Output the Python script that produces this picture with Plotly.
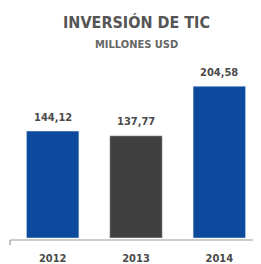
import plotly.graph_objects as go

years = ["2012", "2013", "2014"]
values = [144.12, 137.77, 204.58]
labels = ["144,12", "137,77", "204,58"]
colors = ["#0b4a9c", "#404040", "#0b4a9c"]

# page body has an 8px margin; size the figure so it fits the 261x264 window
OFF = 8
W, H = 261 - OFF, 264 - OFF
t, b, l, r = 0, 26, 3, 0
plot_h = H - t - b
FONT = "DejaVu Sans Condensed, Liberation Sans Narrow, sans-serif"

fig = go.Figure(go.Bar(
    x=years, y=values, marker_color=colors, width=0.63,
))
fig.update_xaxes(type="category")

for i, (yv, lab) in enumerate(zip(values, labels)):
    fig.add_annotation(x=i, y=yv, text="<b>" + lab + "</b>", showarrow=False, yshift=14,
                       yanchor="middle", font=dict(family=FONT, size=11, color="#4a4a4a"))

def py(pix):
    return (H - b - (pix - OFF)) / plot_h

fig.add_annotation(text="<b>INVERSIÓN DE TIC</b>", xref="paper", yref="paper", x=0.5, y=py(23),
                   yanchor="middle", showarrow=False, font=dict(family=FONT, size=16, color="#555555"))
fig.add_annotation(text="<b>MILLONES USD</b>", xref="paper", yref="paper", x=0.5, y=py(45),
                   yanchor="middle", showarrow=False, font=dict(family=FONT, size=11, color="#666666"))

# axis baseline and left tick
fig.add_shape(type="line", xref="paper", yref="paper", x0=-0.004, x1=1, y0=py(240), y1=py(240),
              line=dict(color="#9a9a9a", width=1.2))
fig.add_shape(type="line", xref="paper", yref="paper", x0=-0.004, x1=-0.004, y0=py(240), y1=py(245),
              line=dict(color="#9a9a9a", width=1.2))

fig.update_layout(
    width=W, height=H, margin=dict(l=l, r=r, t=t, b=b, autoexpand=False),
    plot_bgcolor="white", paper_bgcolor="white", showlegend=False,
    xaxis=dict(range=[-0.5, 2.5], showline=False, showgrid=False, ticks="", automargin=False,
               tickfont=dict(family=FONT, size=11, color="#4a4a4a"),
               tickprefix="<b>", ticksuffix="</b>", ticklabelstandoff=12),
    yaxis=dict(range=[0, plot_h / 0.742], visible=False, automargin=False),
)
fig.write_html("out.html")
